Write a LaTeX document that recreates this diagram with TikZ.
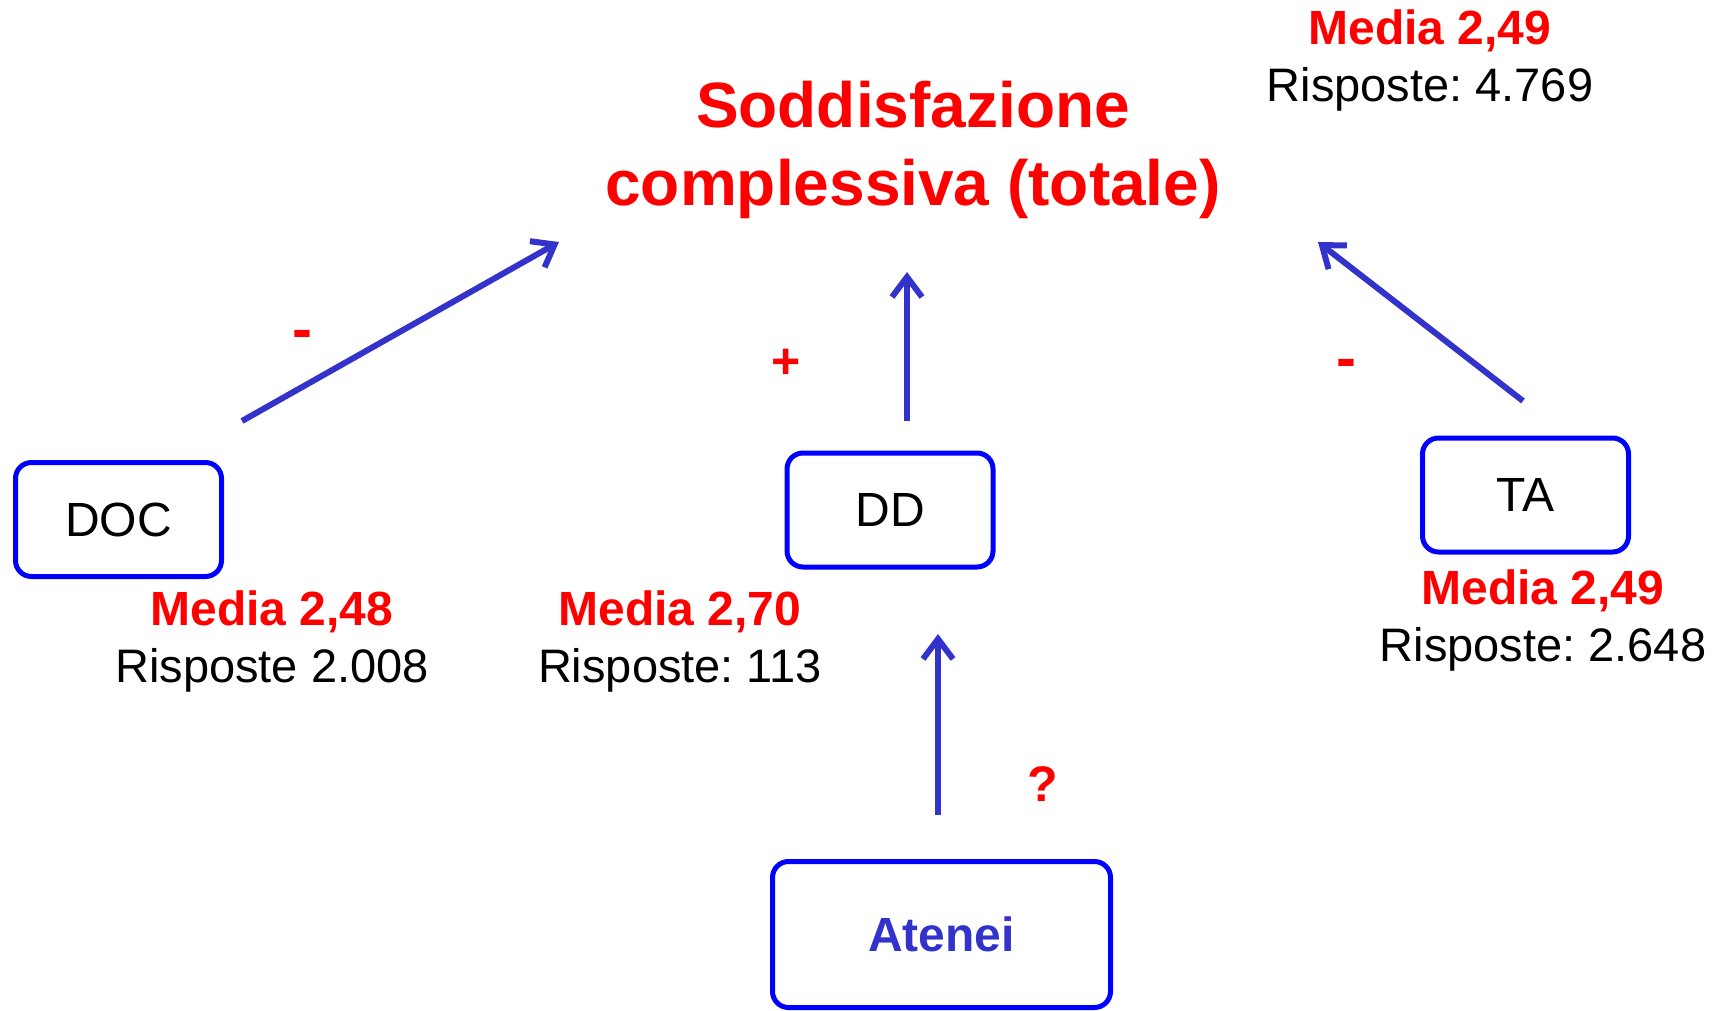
\documentclass[tikz,border=0pt]{standalone}
\usepackage{fontspec}
\setmainfont{Liberation Sans}
\usetikzlibrary{arrows.meta}
\definecolor{myred}{RGB}{255,0,0}
\definecolor{boxblue}{RGB}{0,0,255}
\definecolor{arrblue}{RGB}{51,51,204}
\frenchspacing
\begin{document}
\begin{tikzpicture}[x=1pt,y=-1pt,
  box/.style={draw=boxblue, line width=5pt, rounded corners=16pt, minimum width=206pt, minimum height=114pt, inner sep=0pt, font=\fontsize{48}{56}\selectfont},
  lbl/.style={anchor=base, inner sep=0pt, text=myred, font=\bfseries\fontsize{48}{57}\selectfont},
  val/.style={anchor=base, inner sep=0pt, font=\fontsize{47}{56}\selectfont},
  ttl/.style={anchor=base, inner sep=0pt, text=myred, font=\bfseries\fontsize{64}{77}\selectfont},
  sgn/.style={inner sep=0pt, text=myred, font=\bfseries\fontsize{50}{60}\selectfont},
  minus/.style={inner sep=0pt, text=myred, font=\bfseries\fontsize{60}{70}\selectfont},
  arr/.style={draw=arrblue, line width=6pt, -{Straight Barb[length=20pt,width=30pt]}, line join=round}
]
\useasboundingbox (0,0) rectangle (1718,1011);
% title
\node[ttl] (t1) at (913,128) {Soddisfazione};
\node[ttl] (t2) at (913,205) {complessiva (totale)};
% top right
\node[lbl] (m0) at (1430,45) {Media 2,49};
\node[val] (r0) at (1430,102) {Risposte: 4.769};
% boxes
\node[box] (doc) at (118.5,519.5) {DOC};
\node[box] (dd) at (890,510) {DD};
\node[box] (ta) at (1525.5,495) {TA};
\node[box, minimum width=338pt, minimum height=146pt, text=arrblue, font=\bfseries\fontsize{48}{57}\selectfont] (at) at (941.5,934.5) {Atenei};
% labels under boxes
\node[lbl] (m1) at (272,625) {Media 2,48};
\node[val] (r1) at (272,682) {Risposte 2.008};
\node[lbl] (m2) at (680,625) {Media 2,70};
\node[val] (r2) at (680,682) {Risposte: 113};
\node[lbl] (m3) at (1543,604) {Media 2,49};
\node[val] (r3) at (1543,661) {Risposte: 2.648};
% arrow end points
\coordinate (a1s) at (242,421);
\coordinate (a1e) at (559,242);
\coordinate (a2s) at (907,421);
\coordinate (a2e) at (907,272);
\coordinate (a3s) at (1523,401);
\coordinate (a3e) at (1318,242);
\coordinate (a4s) at (938,815);
\coordinate (a4e) at (938,634);
\draw[arr] (a1s) -- (a1e);
\draw[arr] (a2s) -- (a2e);
\draw[arr] (a3s) -- (a3e);
\draw[arr] (a4s) -- (a4e);
% signs
\node[minus] (s1) at (302,340) {-};
\node[sgn] (s2) at (786,364) {+};
\node[minus] (s3) at (1346,369) {-};
\node[sgn] (s4) at (1043,784) {?};
\end{tikzpicture}
\end{document}
